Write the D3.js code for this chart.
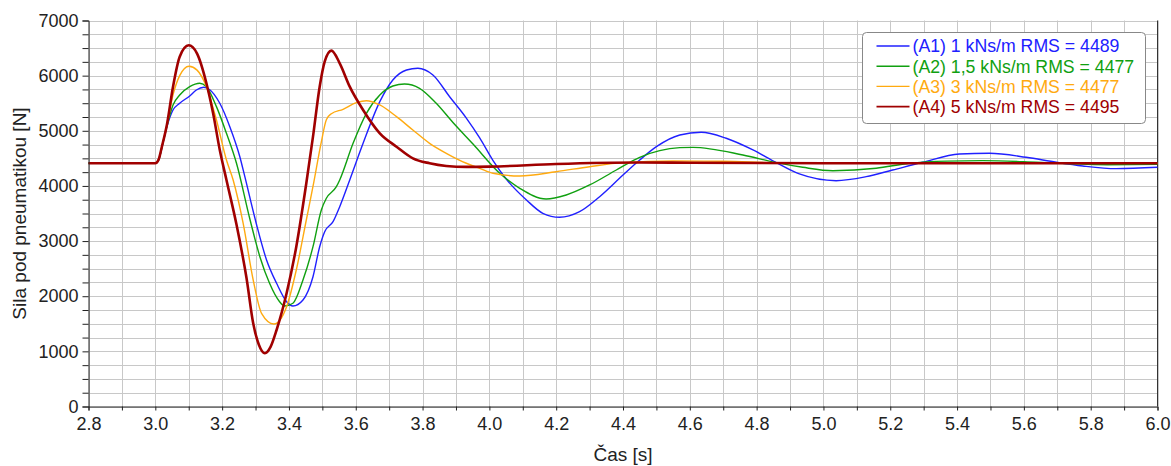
<!DOCTYPE html>
<html>
<head>
<meta charset="utf-8">
<script src="https://cdn.jsdelivr.net/npm/d3@7"></script>
<style>
  body { margin: 0; background: #fff; }
  text { font-family: "Liberation Sans", Arial, sans-serif; }
</style>
</head>
<body>
<script>
// time [s] and force [N] for each damper setting
const a1Time = [2.8, 3.0, 3.01, 3.02, 3.035, 3.053, 3.073, 3.103, 3.123, 3.145, 3.163, 3.193, 3.223, 3.253, 3.268, 3.303, 3.333, 3.363, 3.393, 3.412, 3.442, 3.472, 3.492, 3.507, 3.532, 3.552, 3.582, 3.622, 3.672, 3.711, 3.752, 3.786, 3.831, 3.881, 3.931, 3.971, 4.011, 4.051, 4.111, 4.16, 4.21, 4.27, 4.33, 4.4, 4.45, 4.5, 4.57, 4.634, 4.709, 4.789, 4.859, 4.928, 5.038, 5.128, 5.207, 5.297, 5.407, 5.497, 5.607, 5.697, 5.776, 5.876, 6.0];
const a1Force = [4410, 4410, 4470, 4700, 5080, 5377, 5499, 5631, 5740, 5790, 5745, 5499, 5075, 4530, 4168, 3300, 2657, 2234, 1901, 1823, 1932, 2354, 2898, 3170, 3351, 3623, 4108, 4773, 5528, 5921, 6103, 6134, 6012, 5618, 5230, 4870, 4460, 4120, 3745, 3504, 3431, 3533, 3805, 4198, 4470, 4712, 4924, 4973, 4864, 4652, 4422, 4217, 4095, 4168, 4289, 4429, 4579, 4592, 4519, 4429, 4362, 4313, 4338];

const a2Time = [2.8, 3.0, 3.01, 3.02, 3.035, 3.053, 3.073, 3.103, 3.133, 3.153, 3.183, 3.213, 3.243, 3.283, 3.313, 3.342, 3.372, 3.387, 3.412, 3.442, 3.472, 3.497, 3.512, 3.542, 3.552, 3.592, 3.632, 3.672, 3.711, 3.746, 3.791, 3.841, 3.891, 3.951, 4.031, 4.091, 4.17, 4.23, 4.3, 4.38, 4.45, 4.57, 4.609, 4.759, 4.859, 4.938, 5.028, 5.158, 5.257, 5.37, 5.477, 5.6, 5.7, 5.85, 6.0];
const a2Force = [4410, 4410, 4470, 4710, 5090, 5468, 5649, 5800, 5862, 5800, 5438, 4954, 4411, 3400, 2717, 2234, 1901, 1823, 1872, 2294, 2898, 3564, 3776, 3986, 4108, 4773, 5317, 5649, 5812, 5849, 5771, 5499, 5150, 4760, 4230, 3957, 3763, 3836, 4017, 4289, 4519, 4694, 4700, 4561, 4422, 4338, 4276, 4320, 4411, 4450, 4458, 4440, 4410, 4385, 4390];

const a3Time = [2.8, 3.0, 3.01, 3.02, 3.035, 3.053, 3.073, 3.101, 3.125, 3.153, 3.183, 3.213, 3.233, 3.263, 3.293, 3.318, 3.355, 3.393, 3.422, 3.452, 3.472, 3.497, 3.512, 3.527, 3.562, 3.602, 3.632, 3.672, 3.722, 3.771, 3.821, 3.871, 3.931, 3.971, 4.011, 4.091, 4.2, 4.3, 4.4, 4.55, 4.7, 4.85, 5.0, 5.5, 6.0];
const a3Force = [4410, 4410, 4480, 4720, 5110, 5650, 6000, 6170, 6100, 5800, 5196, 4470, 4108, 3322, 2294, 1690, 1496, 1810, 2475, 3382, 3990, 4800, 5200, 5310, 5390, 5510, 5546, 5468, 5256, 5014, 4773, 4592, 4411, 4320, 4229, 4180, 4258, 4349, 4422, 4452, 4448, 4420, 4412, 4415, 4410];

const a4Time = [2.8, 3.0, 3.01, 3.02, 3.035, 3.053, 3.073, 3.1, 3.125, 3.153, 3.173, 3.193, 3.213, 3.243, 3.273, 3.293, 3.31, 3.328, 3.345, 3.363, 3.393, 3.422, 3.452, 3.472, 3.492, 3.507, 3.527, 3.552, 3.582, 3.622, 3.672, 3.722, 3.771, 3.821, 3.871, 3.931, 4.0, 4.2, 4.45, 4.6, 5.0, 6.0];
const a4Force = [4410, 4410, 4480, 4720, 5120, 5800, 6344, 6550, 6400, 5862, 5317, 4652, 4108, 3300, 2330, 1509, 1120, 965, 1080, 1387, 2053, 2898, 4048, 4893, 5800, 6253, 6453, 6224, 5800, 5377, 4954, 4712, 4501, 4411, 4362, 4345, 4350, 4398, 4425, 4420, 4412, 4410];

const seriesNames = ["(A1) 1 kNs/m RMS = 4489", "(A2) 1,5 kNs/m RMS = 4477", "(A3) 3 kNs/m RMS = 4477", "(A4) 5 kNs/m RMS = 4495"];
const seriesColors = ["#2020ff", "#10a010", "#ffaa10", "#a00000"];
const seriesWidths = [1.4, 1.4, 1.4, 2.6];

const xTicks = [2.8, 3.0, 3.2, 3.4, 3.6, 3.8, 4.0, 4.2, 4.4, 4.6, 4.8, 5.0, 5.2, 5.4, 5.6, 5.8, 6.0];
const yTicks = [0, 1000, 2000, 3000, 4000, 5000, 6000, 7000];

const w = 1171;
const h = 466;
const margin = { left: 88.5, right: 13.5, top: 20.5, bottom: 59.5 };

const series = [
  { t: a1Time, v: a1Force },
  { t: a2Time, v: a2Force },
  { t: a3Time, v: a3Force },
  { t: a4Time, v: a4Force }
].map((s, i) => ({
  name: seriesNames[i],
  color: seriesColors[i],
  width: seriesWidths[i],
  points: s.t.map((t, j) => [t, s.v[j]])
}));

const svg = d3.select("body").append("svg").attr("width", w).attr("height", h);

const x = d3.scaleLinear().domain([2.8, 6.0]).range([margin.left, w - margin.right]);
const y = d3.scaleLinear().domain([0, 7000]).range([h - margin.bottom, margin.top]);

// grid
svg.append("g")
  .selectAll("line")
  .data(d3.range(28, 61).map((d) => d / 10))
  .enter()
  .append("line")
  .attr("x1", (d) => Math.round(x(d)) + 0.5)
  .attr("x2", (d) => Math.round(x(d)) + 0.5)
  .attr("y1", y(7000))
  .attr("y2", y(0))
  .attr("stroke", "#c8c8c8");

svg.append("g")
  .selectAll("line")
  .data(d3.range(0, 7001, 250))
  .enter()
  .append("line")
  .attr("x1", x(2.8))
  .attr("x2", x(6.0))
  .attr("y1", (d) => Math.round(y(d)) + 0.5)
  .attr("y2", (d) => Math.round(y(d)) + 0.5)
  .attr("stroke", "#c8c8c8");

// right border
svg.append("line")
  .attr("x1", x(6.0)).attr("x2", x(6.0))
  .attr("y1", y(7000)).attr("y2", y(0))
  .attr("stroke", "#333");

// curves
const line = d3.line()
  .x((d) => x(d[0]))
  .y((d) => y(d[1]))
  .curve(d3.curveMonotoneX);

svg.append("g")
  .selectAll("path")
  .data(series)
  .enter()
  .append("path")
  .attr("d", (d) => line(d.points))
  .attr("fill", "none")
  .attr("stroke", (d) => d.color)
  .attr("stroke-width", (d) => d.width)
  .attr("stroke-linejoin", "round");

// axes
const xAxis = svg.append("g")
  .attr("transform", `translate(0,${y(0)})`)
  .call(d3.axisBottom(x).tickValues(d3.range(28, 61).map((d) => d / 10)).tickSize(4).tickFormat(""));
xAxis.select(".domain").attr("stroke", "#222");
xAxis.selectAll(".tick line").attr("stroke", "#222");

const xLabels = svg.append("g")
  .attr("transform", `translate(0,${y(0)})`)
  .call(d3.axisBottom(x).tickValues(xTicks).tickSize(0).tickPadding(11).tickFormat(d3.format(".1f")));
xLabels.select(".domain").remove();
xLabels.selectAll("text").attr("font-size", 18).attr("fill", "#222");

const yAxis = svg.append("g")
  .attr("transform", `translate(${x(2.8)},0)`)
  .call(d3.axisLeft(y).tickValues(d3.range(0, 7001, 250)).tickSize(6).tickFormat(""));
yAxis.select(".domain").attr("stroke", "#222");
yAxis.selectAll(".tick line").attr("stroke", "#222");

const yLabels = svg.append("g")
  .attr("transform", `translate(${x(2.8)},0)`)
  .call(d3.axisLeft(y).tickValues(yTicks).tickSize(0).tickPadding(10).tickFormat(d3.format("d")));
yLabels.select(".domain").remove();
yLabels.selectAll("text").attr("font-size", 18).attr("fill", "#222");

// axis titles
svg.append("text")
  .attr("x", (x(2.8) + x(6.0)) / 2)
  .attr("y", 461)
  .attr("text-anchor", "middle")
  .attr("font-size", 19)
  .attr("fill", "#222")
  .text("Čas [s]");

svg.append("text")
  .attr("transform", `translate(26,${(y(0) + y(7000)) / 2}) rotate(-90)`)
  .attr("text-anchor", "middle")
  .attr("font-size", 19)
  .attr("fill", "#222")
  .text("Sila pod pneumatikou [N]");

// legend
const legend = svg.append("g").attr("transform", "translate(862.5,32.5)");
legend.append("rect")
  .attr("width", 283)
  .attr("height", 91)
  .attr("rx", 4)
  .attr("fill", "#fff")
  .attr("stroke", "#888");

const items = legend.selectAll("g.item")
  .data(series)
  .enter()
  .append("g")
  .attr("class", "item")
  .attr("transform", (d, i) => `translate(0,${13.5 + i * 20.2})`);

items.append("line")
  .attr("x1", 14).attr("x2", 47)
  .attr("stroke", (d) => d.color)
  .attr("stroke-width", (d) => (d.width > 2 ? 1.6 : 1.4));

items.append("text")
  .attr("x", 50)
  .attr("dy", "0.36em")
  .attr("font-size", 17.7)
  .attr("fill", (d) => d.color)
  .text((d) => d.name);
</script>
</body>
</html>
